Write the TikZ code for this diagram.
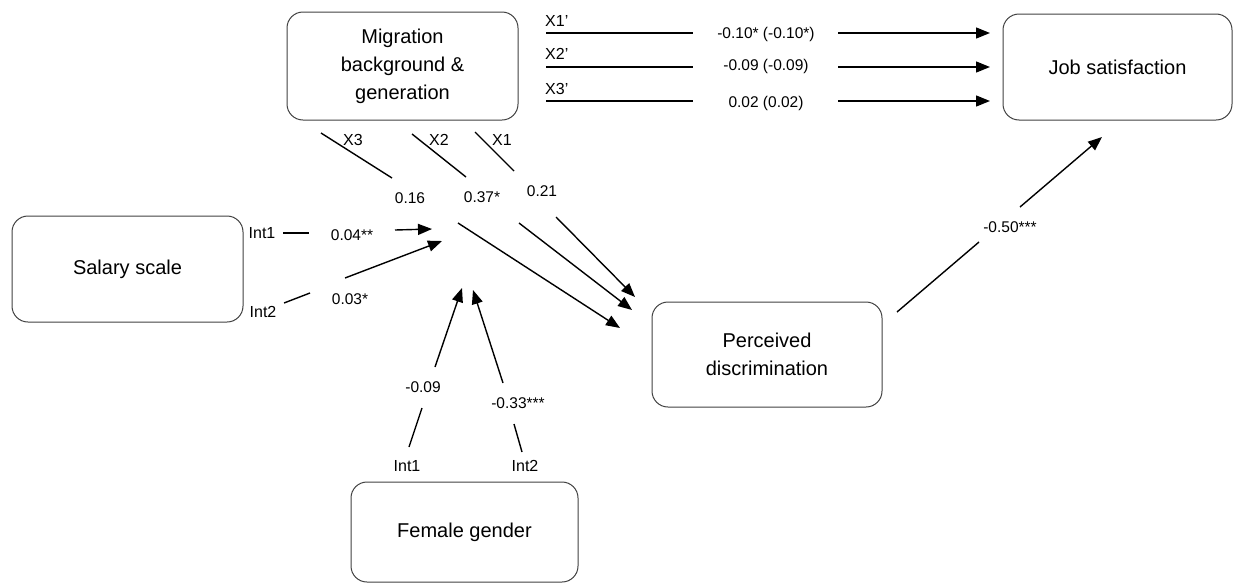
\documentclass[tikz,border=0pt]{standalone}
\usepackage{fontspec}
\setmainfont{Liberation Sans}
\usetikzlibrary{arrows.meta}
\tikzstyle{boxnode} = [rectangle, rounded corners=16pt, draw=black!75, line width=1pt,
                       align=center, font=\fontsize{20}{28}\selectfont]
\tikzstyle{coef} = [inner sep=0pt, font=\fontsize{15.5}{17}\selectfont]
\tikzstyle{tag} = [inner sep=0pt, font=\fontsize{16}{18}\selectfont]
\tikzstyle{seg} = [line width=1.4pt]
\tikzstyle{arrow} = [line width=1.4pt, -{Triangle[length=14pt,width=11pt]}]

\begin{document}
\begin{tikzpicture}[x=1pt, y=-1pt]
  \useasboundingbox (0,0) rectangle (1233,584);

  % boxes
  \node (mig) [boxnode, minimum width=231pt, minimum height=108pt] at (402.5,66) {Migration\\background \&\\generation};
  \node (job) [boxnode, minimum width=229pt, minimum height=106pt] at (1117.5,67) {Job satisfaction};
  \node (sal) [boxnode, minimum width=231pt, minimum height=106pt] at (127.5,269) {Salary scale};
  \node (per) [boxnode, minimum width=230pt, minimum height=105pt] at (767,354.5) {Perceived\\discrimination};
  \node (fem) [boxnode, minimum width=227pt, minimum height=100pt] at (464.5,532) {Female gender};

  % direct paths to job satisfaction
  \node (x1p) [tag, anchor=west] at (545,21) {X1’};
  \node (x2p) [tag, anchor=west] at (545,54) {X2’};
  \node (x3p) [tag, anchor=west] at (545,89) {X3’};
  \node (d1) [coef] at (766,34) {-0.10* (-0.10*)};
  \node (d2) [coef] at (766,66) {-0.09 (-0.09)};
  \node (d3) [coef] at (766,103) {0.02 (0.02)};
  \coordinate (d1a) at (546,33);  \coordinate (d1b) at (693,33);
  \coordinate (d1c) at (838,33);  \coordinate (d1d) at (990,33);
  \coordinate (d2a) at (546,67);  \coordinate (d2b) at (693,67);
  \coordinate (d2c) at (838,67);  \coordinate (d2d) at (990,67);
  \coordinate (d3a) at (546,101); \coordinate (d3b) at (693,101);
  \coordinate (d3c) at (838,101); \coordinate (d3d) at (990,101);
  \draw [seg] (d1a) -- (d1b);  \draw [arrow] (d1c) -- (d1d);
  \draw [seg] (d2a) -- (d2b);  \draw [arrow] (d2c) -- (d2d);
  \draw [seg] (d3a) -- (d3b);  \draw [arrow] (d3c) -- (d3d);

  % migration -> perceived discrimination
  \node (x3) [tag] at (353,140) {X3};
  \node (x2) [tag] at (439,140) {X2};
  \node (x1) [tag] at (502,140) {X1};
  \node (m3) [coef] at (410,198) {0.16};
  \node (m2) [coef] at (482,197) {0.37*};
  \node (m1) [coef] at (542,191) {0.21};
  \coordinate (m3a) at (321,133); \coordinate (m3b) at (392,178);
  \coordinate (m3c) at (458,223); \coordinate (m3d) at (620,328);
  \coordinate (m2a) at (412,134); \coordinate (m2b) at (466,177);
  \coordinate (m2c) at (519,223); \coordinate (m2d) at (632,310);
  \coordinate (m1a) at (475,132); \coordinate (m1b) at (514,171);
  \coordinate (m1c) at (556,217); \coordinate (m1d) at (635,297);
  \draw [seg] (m3a) -- (m3b);  \draw [arrow] (m3c) -- (m3d);
  \draw [seg] (m2a) -- (m2b);  \draw [arrow] (m2c) -- (m2d);
  \draw [seg] (m1a) -- (m1b);  \draw [arrow] (m1c) -- (m1d);

  % salary scale interactions
  \node (si1) [tag] at (262,233) {Int1};
  \node (si2) [tag] at (263,312) {Int2};
  \node (s1) [coef] at (352,235) {0.04**};
  \node (s2) [coef] at (350,299) {0.03*};
  \coordinate (s1a) at (283,233); \coordinate (s1b) at (309,233);
  \coordinate (s1c) at (395,230); \coordinate (s1d) at (432,229);
  \coordinate (s2a) at (284,303); \coordinate (s2b) at (310,293);
  \coordinate (s2c) at (345,278); \coordinate (s2d) at (442,241);
  \draw [seg] (s1a) -- (s1b);  \draw [arrow] (s1c) -- (s1d);
  \draw [seg] (s2a) -- (s2b);  \draw [arrow] (s2c) -- (s2d);

  % female gender interactions
  \node (fi1) [tag] at (407,466) {Int1};
  \node (fi2) [tag] at (525,466) {Int2};
  \node (f1) [coef] at (423,387) {-0.09};
  \node (f2) [coef] at (518,403) {-0.33***};
  \coordinate (f1a) at (409,447); \coordinate (f1b) at (422,408);
  \coordinate (f1c) at (435,367); \coordinate (f1d) at (462,288);
  \coordinate (f2a) at (522,452); \coordinate (f2b) at (514,424);
  \coordinate (f2c) at (503,383); \coordinate (f2d) at (473,290);
  \draw [seg] (f1a) -- (f1b);  \draw [arrow] (f1c) -- (f1d);
  \draw [seg] (f2a) -- (f2b);  \draw [arrow] (f2c) -- (f2d);

  % perceived discrimination -> job satisfaction
  \node (pj) [coef] at (1010,227) {-0.50***};
  \coordinate (pja) at (897,312);  \coordinate (pjb) at (979,242);
  \coordinate (pjc) at (1020,207); \coordinate (pjd) at (1102,137);
  \draw [seg] (pja) -- (pjb);  \draw [arrow] (pjc) -- (pjd);
\end{tikzpicture}
\end{document}
